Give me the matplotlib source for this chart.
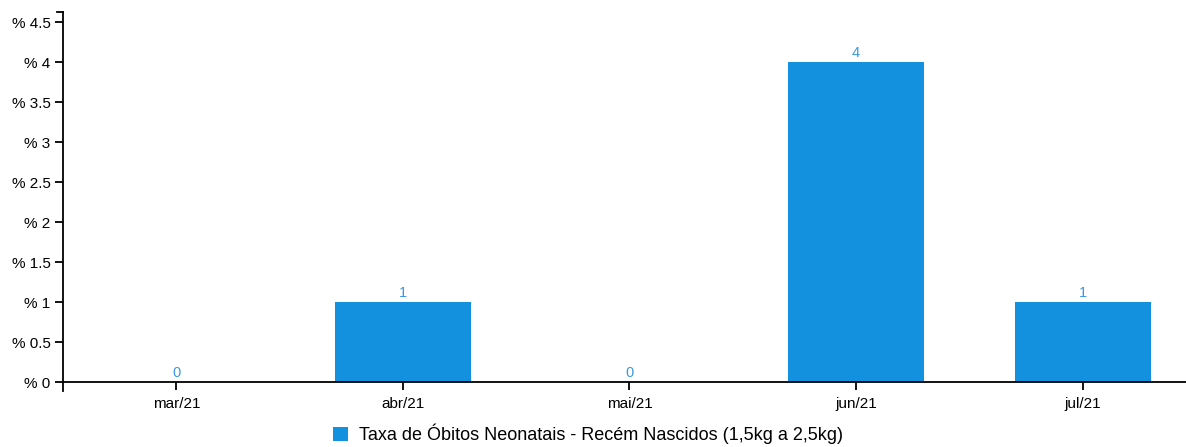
import matplotlib
matplotlib.use("Agg")
import matplotlib.pyplot as plt
from matplotlib.lines import Line2D
from matplotlib.patches import Patch

categories = ["mar/21", "abr/21", "mai/21", "jun/21", "jul/21"]
values = [0, 1, 0, 4, 1]
yticks = [0, 0.5, 1, 1.5, 2, 2.5, 3, 3.5, 4, 4.5]
series_name = "Taxa de Óbitos Neonatais - Recém Nascidos (1,5kg a 2,5kg)"

bar_color = "#1390de"
label_color = "#3a98e0"

plt.rcParams['font.family'] = ['Liberation Sans', 'DejaVu Sans']

W, H = 1186, 447
fig = plt.figure(figsize=(W / 100, H / 100), dpi=100)
left_px, right_px, bottom_px, top_px = 63, 1186, 382, 12
ax = fig.add_axes([left_px / W, (H - bottom_px) / H,
                   (right_px - left_px) / W, (bottom_px - top_px) / H])

x = list(range(len(categories)))
bars = ax.bar(x, values, width=0.6, color=bar_color, zorder=2)
for xi, v in zip(x, values):
    ax.text(xi, v + 0.03, f"{v:g}", ha="center", va="bottom",
            color=label_color, fontsize=10.5)

ax.set_xlim(-0.5, 4.5 - 10 / 226.75)
ax.set_ylim(0, (bottom_px - top_px) / 80)
ax.set_xticks(x)
ax.set_xticklabels(categories)
ax.set_yticks(yticks)
ax.set_yticklabels([f"% {t:g}" for t in yticks])

for s in ["top", "right"]:
    ax.spines[s].set_visible(False)
for s in ["left", "bottom"]:
    ax.spines[s].set_linewidth(1.3)
    ax.spines[s].set_color("black")
ax.tick_params(axis="both", direction="out", length=6, width=1.3,
               labelsize=11, colors="black")
ax.tick_params(axis="x", pad=5)
ax.tick_params(axis="y", pad=3)

# outer ticks of d3-style axes
ax_h = bottom_px - top_px
ax.add_line(Line2D([0, 0], [0, -9 / ax_h], transform=ax.transAxes,
                   color="black", lw=1.3, clip_on=False))
ax_w = right_px - left_px
ax.add_line(Line2D([-6 / ax_w, 0], [1, 1], transform=ax.transAxes,
                   color="black", lw=1.3, clip_on=False))

handle = Patch(facecolor=bar_color, edgecolor="none")
fig.legend([handle], [series_name], loc="center",
           bbox_to_anchor=(588 / W, (H - 434) / H), frameon=False,
           fontsize=13, handlelength=0.85, handleheight=0.85,
           handletextpad=0.6)

fig.savefig("out.png", dpi=100)
